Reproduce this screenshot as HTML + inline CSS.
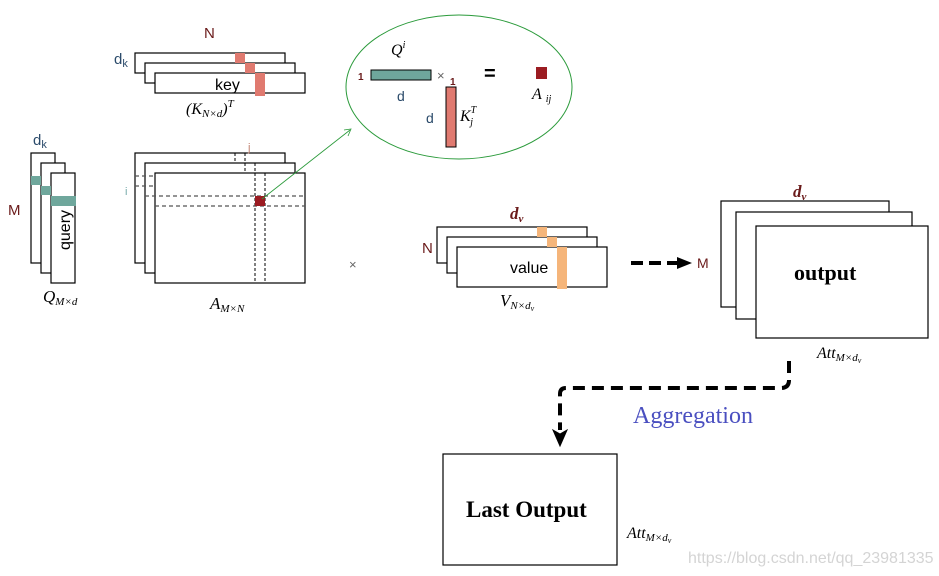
<!DOCTYPE html>
<html><head><meta charset="utf-8"><style>
body{margin:0;background:#fff}
svg{display:block}
text{font-family:"Liberation Sans",sans-serif}
.s{font-family:"Liberation Serif",serif;font-style:italic}
</style></head><body>
<svg width="939" height="576" viewBox="0 0 939 576" xmlns="http://www.w3.org/2000/svg">
<g fill="#fff" stroke="#000" stroke-width="1.2">
<rect x="135" y="53" width="150" height="20"/>
<rect x="145" y="63" width="150" height="20"/>
<rect x="155" y="73" width="150" height="20"/>
</g>
<rect x="235" y="53" width="10" height="10" fill="#e07a70"/>
<rect x="245" y="63" width="10" height="10" fill="#e07a70"/>
<rect x="255" y="73" width="10" height="23" fill="#e07a70"/>
<text x="204" y="38" fill="#6a1a1a" font-size="15">N</text>
<text x="114" y="64" fill="#2a4a6a" font-size="15">d<tspan font-size="11" dy="3">k</tspan></text>
<text x="215" y="90" font-size="16">key</text>
<text x="186" y="114" class="s" font-size="16">(K<tspan font-size="11" dy="3">N×d</tspan><tspan dy="-3">)</tspan><tspan font-size="11" dy="-7">T</tspan></text>

<g fill="#fff" stroke="#000" stroke-width="1.2">
<rect x="31" y="153" width="24" height="110"/>
<rect x="41" y="163" width="24" height="110"/>
<rect x="51" y="173" width="24" height="110"/>
</g>
<rect x="31" y="176" width="10" height="9" fill="#6fa79c"/>
<rect x="41" y="186" width="10" height="9" fill="#6fa79c"/>
<rect x="51" y="196" width="25" height="10" fill="#6fa79c"/>
<text x="33" y="145" fill="#2a4a6a" font-size="15">d<tspan font-size="11" dy="3">k</tspan></text>
<text x="8" y="215" fill="#6a1a1a" font-size="15">M</text>
<text x="0" y="0" font-size="16" transform="translate(70,250) rotate(-90)">query</text>
<text x="43" y="302" class="s" font-size="17">Q<tspan font-size="11" dy="3">M×d</tspan></text>

<g fill="#fff" stroke="#000" stroke-width="1.2">
<rect x="135" y="153" width="150" height="110"/>
<rect x="145" y="163" width="150" height="110"/>
<rect x="155" y="173" width="150" height="110"/>
</g>
<g stroke="#000" stroke-dasharray="3,2" stroke-width="1">
<line x1="235" y1="153" x2="235" y2="163"/><line x1="245" y1="153" x2="245" y2="173"/>
<line x1="255" y1="163" x2="255" y2="283"/><line x1="265" y1="173" x2="265" y2="283"/>
</g>
<g stroke="#555" stroke-dasharray="4,3" stroke-width="1.2">
<line x1="135" y1="176" x2="155" y2="176"/><line x1="135" y1="186" x2="155" y2="186"/>
<line x1="145" y1="196" x2="305" y2="196"/><line x1="155" y1="206" x2="305" y2="206"/>
</g>
<rect x="255" y="196" width="10" height="10" fill="#9b1c22"/>
<text x="248" y="151" fill="#c08070" font-size="11">j</text>
<text x="125" y="195" fill="#7aa" font-size="11">i</text>
<text x="210" y="309" class="s" font-size="17">A<tspan font-size="11" dy="3">M×N</tspan></text>
<line x1="262" y1="199" x2="350" y2="130" stroke="#2a9a3a" stroke-width="0.8"/>
<path d="M344,130 L351,129 L348,136" fill="none" stroke="#2a9a3a" stroke-width="0.8"/>
<text x="349" y="269" fill="#666" font-size="13">×</text>

<ellipse cx="459" cy="87" rx="113" ry="72" fill="none" stroke="#2a9a3a" stroke-width="1"/>
<rect x="371" y="70" width="60" height="10" fill="#6fa79c" stroke="#000" stroke-width="1"/>
<rect x="446" y="87" width="10" height="60" fill="#e07a70" stroke="#000" stroke-width="1"/>
<rect x="536" y="67" width="11" height="12" fill="#9b1c22"/>
<text x="358" y="80" fill="#6a1a1a" font-size="10" font-weight="bold">1</text>
<text x="450" y="85" fill="#6a1a1a" font-size="10" font-weight="bold">1</text>
<text x="437" y="80" fill="#666" font-size="13">×</text>
<text x="484" y="80" font-size="20" font-weight="bold">=</text>
<text x="397" y="101" fill="#2a4a6a" font-size="14">d</text>
<text x="426" y="123" fill="#2a4a6a" font-size="14">d</text>
<text x="391" y="55" class="s" font-size="16">Q<tspan font-size="10" dy="-7">i</tspan></text>
<text x="460" y="121" class="s" font-size="16">K<tspan font-size="10" dy="-8">T</tspan><tspan font-size="10" dx="-6" dy="12">j</tspan></text>
<text x="532" y="99" class="s" font-size="16">A<tspan font-size="10" dx="4" dy="3">ij</tspan></text>

<g fill="#fff" stroke="#000" stroke-width="1.2">
<rect x="437" y="227" width="150" height="36"/>
<rect x="447" y="237" width="150" height="36"/>
<rect x="457" y="247" width="150" height="40"/>
</g>
<rect x="537" y="227" width="10" height="10" fill="#f5b57a"/>
<rect x="547" y="237" width="10" height="10" fill="#f5b57a"/>
<rect x="557" y="247" width="10" height="42" fill="#f5b57a"/>
<text x="510" y="219" fill="#6a1a1a" font-size="17" font-weight="bold" class="s">d<tspan font-size="11" dy="3">v</tspan></text>
<text x="422" y="253" fill="#6a1a1a" font-size="15">N</text>
<text x="510" y="273" font-size="16">value</text>
<text x="500" y="306" class="s" font-size="17">V<tspan font-size="11" dy="3">N×d<tspan font-size="8" dy="2">v</tspan></tspan></text>

<line x1="631" y1="263" x2="678" y2="263" stroke="#000" stroke-width="4" stroke-dasharray="12,6"/>
<path d="M677,257 L692,263 L677,269 Z" fill="#000"/>
<text x="697" y="268" fill="#6a1a1a" font-size="14">M</text>

<g fill="#fff" stroke="#000" stroke-width="1.2">
<rect x="721" y="201" width="168" height="106"/>
<rect x="736" y="212" width="176" height="107"/>
<rect x="756" y="226" width="172" height="112"/>
</g>
<text x="793" y="197" fill="#6a1a1a" font-size="17" font-weight="bold" class="s">d<tspan font-size="11" dy="3">v</tspan></text>
<text x="794" y="280" font-size="22" font-weight="bold" style="font-family:'Liberation Serif',serif">output</text>
<text x="817" y="358" class="s" font-size="16">Att<tspan font-size="11" dy="3">M×d<tspan font-size="8" dy="2">v</tspan></tspan></text>

<path d="M789,361 L789,380 Q789,388 781,388 L566,388 Q560,388 560,394 L560,430" fill="none" stroke="#000" stroke-width="4" stroke-dasharray="12,7"/>
<path d="M553,430 L560,446 L567,430 L560,434 Z" fill="#000" stroke="#000" stroke-width="1"/>
<text x="633" y="423" fill="#4a4fc0" font-size="24" style="font-family:'Liberation Serif',serif">Aggregation</text>

<rect x="443" y="454" width="174" height="111" fill="#fff" stroke="#000" stroke-width="1.2"/>
<text x="466" y="517" font-size="23" font-weight="bold" style="font-family:'Liberation Serif',serif">Last Output</text>
<text x="627" y="538" class="s" font-size="16">Att<tspan font-size="11" dy="3">M×d<tspan font-size="8" dy="2">v</tspan></tspan></text>
<text x="688" y="563" fill="#d4d4d4" font-size="16">https://blog.csdn.net/qq_23981335</text>
</svg>
</body></html>
